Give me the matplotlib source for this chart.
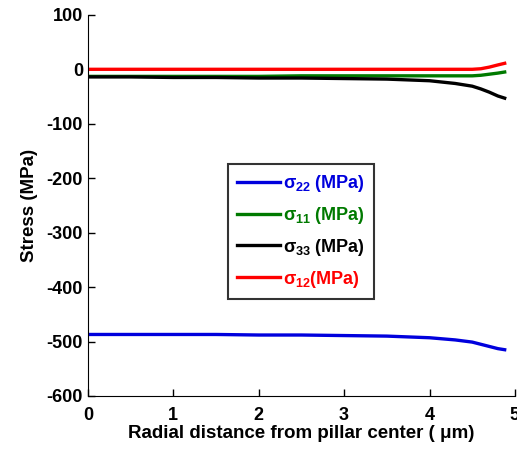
import matplotlib
matplotlib.use("Agg")
import matplotlib.pyplot as plt

plt.rcParams['font.family'] = ['Liberation Sans', 'DejaVu Sans']
plt.rcParams['font.weight'] = 'bold'
plt.rcParams['axes.unicode_minus'] = False
plt.rcParams['mathtext.fontset'] = 'custom'
plt.rcParams['mathtext.rm'] = 'Liberation Sans:bold'
plt.rcParams['mathtext.it'] = 'Liberation Sans:bold'
plt.rcParams['mathtext.bf'] = 'Liberation Sans:bold'

r = [0.0, 0.5, 1.0, 1.5, 2.0, 2.5, 3.0, 3.5, 4.0, 4.3, 4.5, 4.6, 4.7, 4.8, 4.88]
s22 = [-487, -487, -487, -487, -488, -488, -489, -490, -493, -497, -501, -505, -509, -513, -515]
s11 = [-13, -13, -13, -13, -13, -12, -12, -12, -12, -12, -12, -11, -9, -7, -5]
s33 = [-14, -14, -15, -15, -16, -16, -17, -18, -21, -26, -31, -36, -42, -49, -53]
s12 = [0, 0, 0, 0, 0, 0, 0, 0, 0, 0, 0, 1, 4, 8, 11]

labels = [r'$\sigma_{22}$ (MPa)', r'$\sigma_{11}$ (MPa)', r'$\sigma_{33}$ (MPa)', r'$\sigma_{12}$(MPa)']
colors = ['#0000dd', '#007a00', '#000000', '#ff0000']

fig = plt.figure(figsize=(5.17, 4.5), dpi=100)
ax = fig.add_axes([0.170, 0.12, 0.826, 0.847])

for y, lab, c in zip([s22, s11, s33, s12], labels, colors):
    ax.plot(r, y, color=c, lw=2.4, label=lab)

ax.set_xlim(0, 5)
ax.set_ylim(-600, 100)
ax.set_xticks([0, 1, 2, 3, 4, 5])
ax.set_yticks([100, 0, -100, -200, -300, -400, -500, -600])
ax.spines['top'].set_visible(False)
ax.spines['right'].set_visible(False)
ax.tick_params(direction='in', labelsize=13, length=5, width=1)
ax.tick_params(axis='x', pad=8)
for t in ax.get_xticklabels() + ax.get_yticklabels():
    t.set_fontweight('bold')
ax.set_xlabel('Radial distance from pillar center ( \u03bcm)', fontsize=13.5, fontweight='bold', labelpad=1)
ax.set_ylabel('Stress (MPa)', fontsize=13.5, fontweight='bold', labelpad=6)

leg = ax.legend(loc='center', bbox_to_anchor=(0.498, 0.432), frameon=True, fancybox=False,
                edgecolor='black', fontsize=13, handlelength=2.4, handletextpad=0.15,
                labelspacing=0.6, borderpad=0.5)
leg.get_frame().set_linewidth(1.5)
for t, c in zip(leg.get_texts(), colors):
    t.set_color(c)
    t.set_fontweight('bold')

fig.savefig('out.png', dpi=100)
